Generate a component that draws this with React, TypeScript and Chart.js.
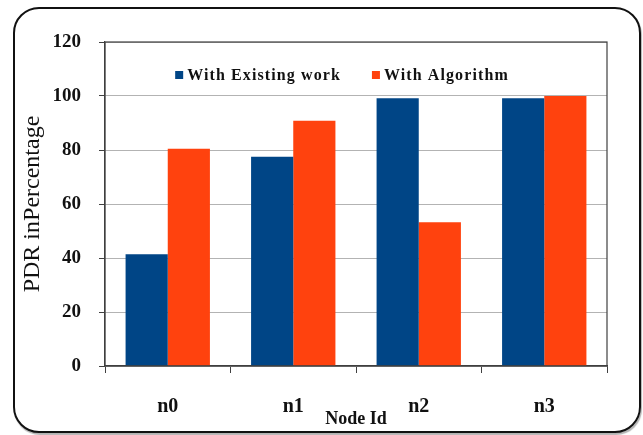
import React, { useEffect, useRef } from "react";
import { Chart, registerables } from "chart.js";

Chart.register(...registerables);

const categories = ["n0", "n1", "n2", "n3"];
const existingWork = [41.4, 77.5, 99.2, 99.2];
const withAlgorithm = [80.5, 90.8, 53.2, 100];
const seriesNames = ["With Existing work", "With Algorithm"];
const seriesColors = ["#004586", "#ff420e"];
const yTicks = { min: 0, max: 120, step: 20 };
const xTitle = "Node Id";
const yTitle = "PDR inPercentage";

const SERIF = "'Liberation Serif', 'Times New Roman', serif";

const plotBorder = {
  id: "plotBorder",
  afterDraw(chart: any) {
    const { ctx, chartArea } = chart;
    ctx.save();
    ctx.strokeStyle = "#404040";
    ctx.lineWidth = 1.2;
    ctx.strokeRect(chartArea.left, chartArea.top, chartArea.right - chartArea.left, chartArea.bottom - chartArea.top);
    ctx.restore();
  },
};

const insideLegend = {
  id: "insideLegend",
  afterDraw(chart: any) {
    const { ctx, chartArea } = chart;
    const box = 8;
    const gapBoxText = 4;
    const gapItems = 31;
    ctx.save();
    ctx.font = `bold 16px ${SERIF}`;
    try {
      (ctx as any).letterSpacing = "1.1px";
    } catch (e) {}
    const items = chart.data.datasets.map((ds: any) => ({
      label: ds.label,
      color: ds.backgroundColor,
      w: ctx.measureText(ds.label).width,
    }));
    const total = items.reduce((s: number, it: any) => s + box + gapBoxText + it.w, 0) + gapItems * (items.length - 1);
    const cx = (chartArea.left + chartArea.right) / 2 - 14;
    const cy = chartArea.top + 33;
    let x = cx - total / 2;
    ctx.textBaseline = "middle";
    ctx.textAlign = "left";
    for (const it of items) {
      ctx.fillStyle = it.color;
      ctx.fillRect(x, cy - box / 2, box, box);
      x += box + gapBoxText;
      ctx.fillStyle = "#111";
      ctx.fillText(it.label, x, cy + 1);
      x += it.w + gapItems;
    }
    ctx.restore();
  },
};

export default function App() {
  const ref = useRef<HTMLCanvasElement | null>(null);
  useEffect(() => {
    if (!ref.current) return;
    const chart = new Chart(ref.current, {
      type: "bar",
      data: {
        labels: categories,
        datasets: [
          { label: seriesNames[0], data: existingWork, backgroundColor: seriesColors[0], borderWidth: 0 },
          { label: seriesNames[1], data: withAlgorithm, backgroundColor: seriesColors[1], borderWidth: 0 },
        ],
      },
      options: {
        animation: false,
        responsive: false,
        devicePixelRatio: 1,
        layout: { padding: { left: 0, right: 36, top: 42, bottom: 0 } },
        datasets: { bar: { categoryPercentage: 0.672, barPercentage: 1 } },
        plugins: {
          legend: { display: false },
          tooltip: { enabled: false },
        },
        scales: {
          x: {
            grid: { drawOnChartArea: false, tickLength: 7, tickColor: "#404040", offset: true },
            border: { color: "#404040", width: 1.2 },
            ticks: { padding: 22, color: "#111", font: { family: SERIF, size: 20, weight: "bold" } },
            title: {
              display: true,
              text: xTitle,
              color: "#111",
              font: { family: SERIF, size: 18, weight: "bold" },
              padding: { top: 0, bottom: 5 },
            },
            afterFit(scale: any) {
              scale.height = 69;
            },
          },
          y: {
            min: yTicks.min,
            max: yTicks.max,
            grid: { color: "#b3b3b3", tickLength: 6, tickColor: "#404040", lineWidth: 1 },
            border: { color: "#404040", width: 1.2 },
            ticks: { stepSize: yTicks.step, padding: 18, color: "#111", font: { family: SERIF, size: 19, weight: "bold" } },
            title: {
              display: true,
              text: yTitle,
              color: "#111",
              font: { family: SERIF, size: 24, weight: "normal" },
              padding: { top: 18, bottom: 0 },
            },
            afterFit(scale: any) {
              scale.width = 105;
            },
          },
        },
      },
      plugins: [plotBorder, insideLegend],
    });
    return () => chart.destroy();
  }, []);

  return (
    <div style={{ position: "absolute", left: 0, top: 0, width: 643, height: 435, background: "#fff" }}>
      <canvas ref={ref} width={643} height={435} style={{ display: "block", position: "absolute", left: 0, top: 0 }} />
      <div
        style={{
          position: "absolute",
          left: 13,
          top: 7,
          width: 628,
          height: 426,
          boxSizing: "border-box",
          border: "2px solid #111",
          borderRadius: 26,
          boxShadow: "1px 2px 1px rgba(0,0,0,0.3)",
          pointerEvents: "none",
        }}
      />
    </div>
  );
}
